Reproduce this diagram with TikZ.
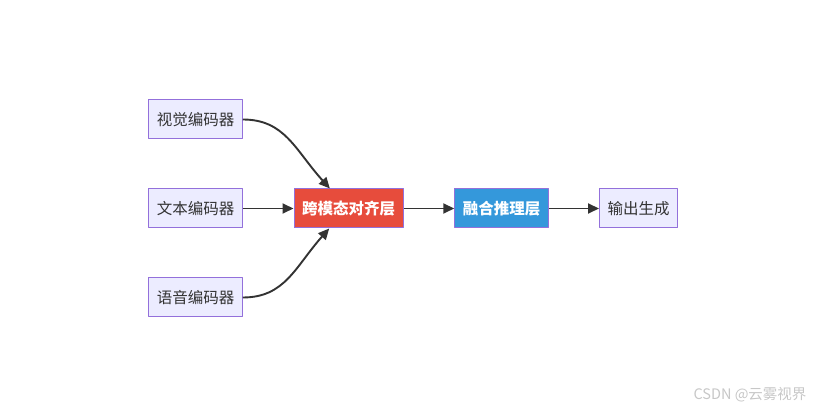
\documentclass[tikz,border=0pt]{standalone}
\usepackage{fontspec}
\usepackage{xcolor}
\newfontfamily\cjk{Noto Sans CJK SC}
\definecolor{boxfill}{HTML}{ECECFF}
\definecolor{boxline}{HTML}{9370DB}
\definecolor{alignred}{HTML}{E74C3C}
\definecolor{fuseblue}{HTML}{3498DB}
\definecolor{edgegray}{HTML}{333333}
\usetikzlibrary{arrows.meta, shapes, positioning}

\begin{document}
\begin{tikzpicture}[
            x=1pt, y=-1pt,
            line join=bevel,
            plainbox/.style={shape=rectangle, fill=boxfill, draw=boxline, line width=1pt,
                inner xsep=8pt, minimum height=39pt, font=\cjk\fontsize{15.5}{18}\selectfont, text=edgegray},
            alignbox/.style={plainbox, fill=alignred, text=white, font=\cjk\bfseries\fontsize{15.5}{18}\selectfont},
            fusebox/.style={plainbox, fill=fuseblue, text=white, font=\cjk\bfseries\fontsize{15.5}{18}\selectfont},
            flow/.style={draw=edgegray, line width=1.9pt, -{Triangle[length=11pt, width=10pt]}}
            ]

            % Canvas
            \useasboundingbox (0, 0) rectangle (827, 411);

            % Encoders
            \foreach \name/\ytext/\label in {
                vision/119.5/视觉编码器,
                text/208.5/文本编码器,
                speech/297.5/语音编码器
            } {
                \node[plainbox] (\name) at (195.5, \ytext) {\label};
            }

            % Layers
            \node[alignbox] (align) at (348.5, 208.5) {跨模态对齐层};
            \node[fusebox] (fuse) at (501.5, 208.5) {融合推理层};
            \node[plainbox] (output) at (638.5, 208.5) {输出生成};

            % Edges
            \draw[flow] (vision.east) .. controls (285, 119.5) and (295, 150) .. (align.133.5);
            \draw[flow] (text.east) -- (align.west);
            \draw[flow] (speech.east) .. controls (285, 297.5) and (295, 267) .. (align.226.5);
            \draw[flow] (align.east) -- (fuse.west);
            \draw[flow] (fuse.east) -- (output.west);

            % Watermark
            \node[text=black!22, font=\cjk\fontsize{14.5}{17}\selectfont] (mark) at (750, 395) {CSDN @云雾视界};
\end{tikzpicture}
\end{document}
